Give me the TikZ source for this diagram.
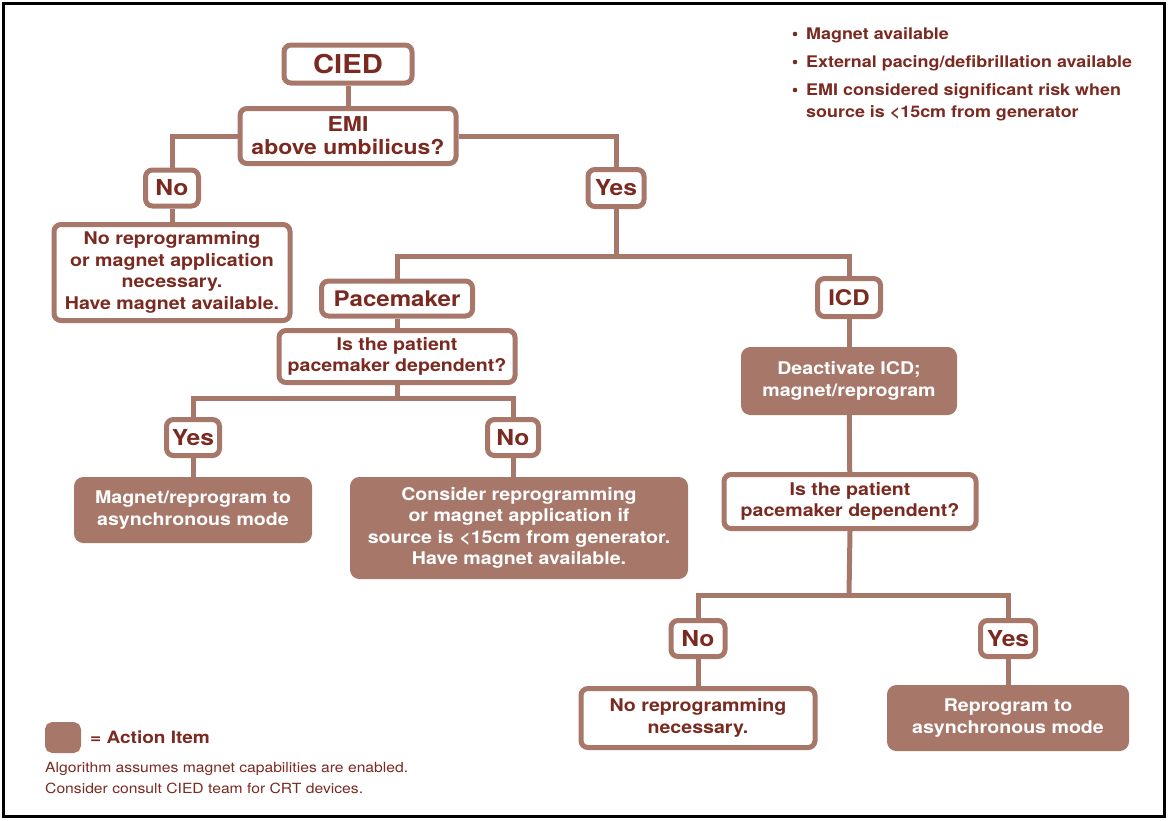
\documentclass[tikz,border=0pt]{standalone}
\usepackage{fontspec}
\setmainfont{TeX Gyre Heros}[FakeStretch=1.12]
\definecolor{brn}{RGB}{167,119,106}
\definecolor{txt}{RGB}{122,42,32}

\begin{document}
\begin{tikzpicture}[x=1pt,y=-1pt,
  box/.style={draw=brn,line width=5pt,rounded corners=7pt,fill=white,text=txt,align=center,inner sep=2pt,font={\bfseries\fontsize{17.5}{21.5}\selectfont}},
  act/.style={box,fill=brn,text=white},
  ans/.style={box,font={\bfseries\fontsize{22}{26}\selectfont}},
  link/.style={draw=brn,line width=5pt},
  note/.style={text=txt,inner sep=0pt,align=left,font={\bfseries\fontsize{16}{22}\selectfont}}]
\useasboundingbox (0,0) rectangle (1168,820);
\draw[line width=3pt] (3.5,3.5) rectangle (1164.5,816.5);

\node[box,minimum width=128pt,minimum height=38pt,font={\bfseries\fontsize{26}{28}\selectfont}] (cied) at (348,64) {CIED};
\node[box,minimum width=216pt,minimum height=55pt,font={\bfseries\fontsize{20.5}{23}\selectfont}] (emi) at (348,136) {EMI\\above umbilicus?};
\node[ans,minimum width=53pt,minimum height=36pt] (no1) at (172,188) {No};
\node[ans,minimum width=56pt,minimum height=37pt] (yes1) at (616,188) {Yes};
\node[box,minimum width=236pt,minimum height=96pt] (nodesc) at (172,272.5) {No reprogramming\\or magnet application\\necessary.\\Have magnet available.};

\node[ans,minimum width=151pt,minimum height=35pt,font={\bfseries\fontsize{21.5}{25}\selectfont}] (pace) at (397,298.5) {Pacemaker};
\node[ans,minimum width=63pt,minimum height=38pt,font={\bfseries\fontsize{21.5}{25}\selectfont}] (icd) at (849,297.5) {ICD};
\node[box,minimum width=236pt,minimum height=52pt] (pat1) at (397,356.5) {Is the patient\\pacemaker dependent?};
\node[act,minimum width=211pt,minimum height=63pt] (deact) at (849,381) {Deactivate ICD;\\magnet/reprogram};

\node[ans,minimum width=53pt,minimum height=36pt] (yes2) at (193,437.5) {Yes};
\node[ans,minimum width=51pt,minimum height=36pt] (no2) at (513,437.5) {No};
\node[act,minimum width=233pt,minimum height=61pt] (magnet) at (193,510) {Magnet/reprogram to\\asynchronous mode};
\node[act,minimum width=333pt,minimum height=97pt] (consider) at (519,528) {Consider reprogramming\\or magnet application if\\source is <15cm from generator.\\Have magnet available.};

\node[box,minimum width=252pt,minimum height=54pt] (pat2) at (850,501.5) {Is the patient\\pacemaker dependent?};
\node[ans,minimum width=54pt,minimum height=36pt] (no3) at (698,638.5) {No};
\node[ans,minimum width=55pt,minimum height=36pt] (yes3) at (1008,638.5) {Yes};
\node[box,minimum width=234pt,minimum height=59pt] (norepro) at (698,718) {No reprogramming\\necessary.};
\node[act,minimum width=237pt,minimum height=61pt] (reprog) at (1008,718) {Reprogram to\\asynchronous mode};

\coordinate (j1) at (616,256);
\coordinate (j2) at (397,398);
\coordinate (j3) at (849,595);
\draw[link] (cied) -- (emi);
\draw[link] (emi.west) -| (no1.north);
\draw[link] (emi.east) -| (yes1.north);
\draw[link] (no1) -- (nodesc);
\draw[link] (yes1) -- (j1);
\draw[link] (pace.north) |- (j1) -| (icd.north);
\draw[link] (pace) -- (pat1);
\draw[link] (pat1) -- (j2);
\draw[link] (yes2.north) |- (j2) -| (no2.north);
\draw[link] (yes2) -- (magnet);
\draw[link] (no2.south) -- (no2.south |- consider.north);
\draw[link] (icd) -- (deact);
\draw[link] (deact) -- (pat2);
\draw[link] (pat2.south) -- (j3);
\draw[link] (no3.north) |- (j3) -| (yes3.north);
\draw[link] (no3) -- (norepro);
\draw[link] (yes3) -- (reprog);

\fill[txt] (795,34) circle (2.3pt) coordinate (b1);
\fill[txt] (795,62) circle (2.3pt) coordinate (b2);
\fill[txt] (795,90) circle (2.3pt) coordinate (b3);
\node[note,anchor=west] (t1) at (806,35) {Magnet available};
\node[note,anchor=west] (t2) at (806,63) {External pacing/defibrillation available};
\node[note,anchor=west] (t3) at (806,102) {EMI considered significant risk when\\source is <15cm from generator};

\node[act,minimum width=31pt,minimum height=26pt,rounded corners=5pt] (key) at (63,737.5) {};
\node[note,anchor=west,font={\bfseries\fontsize{17}{20}\selectfont}] (keytext) at (90,737) {= Action Item};
\node[note,anchor=west,font={\fontsize{14}{21}\selectfont}] (foot) at (45,778.5) {Algorithm assumes magnet capabilities are enabled.\\Consider consult CIED team for CRT devices.};
\end{tikzpicture}
\end{document}
